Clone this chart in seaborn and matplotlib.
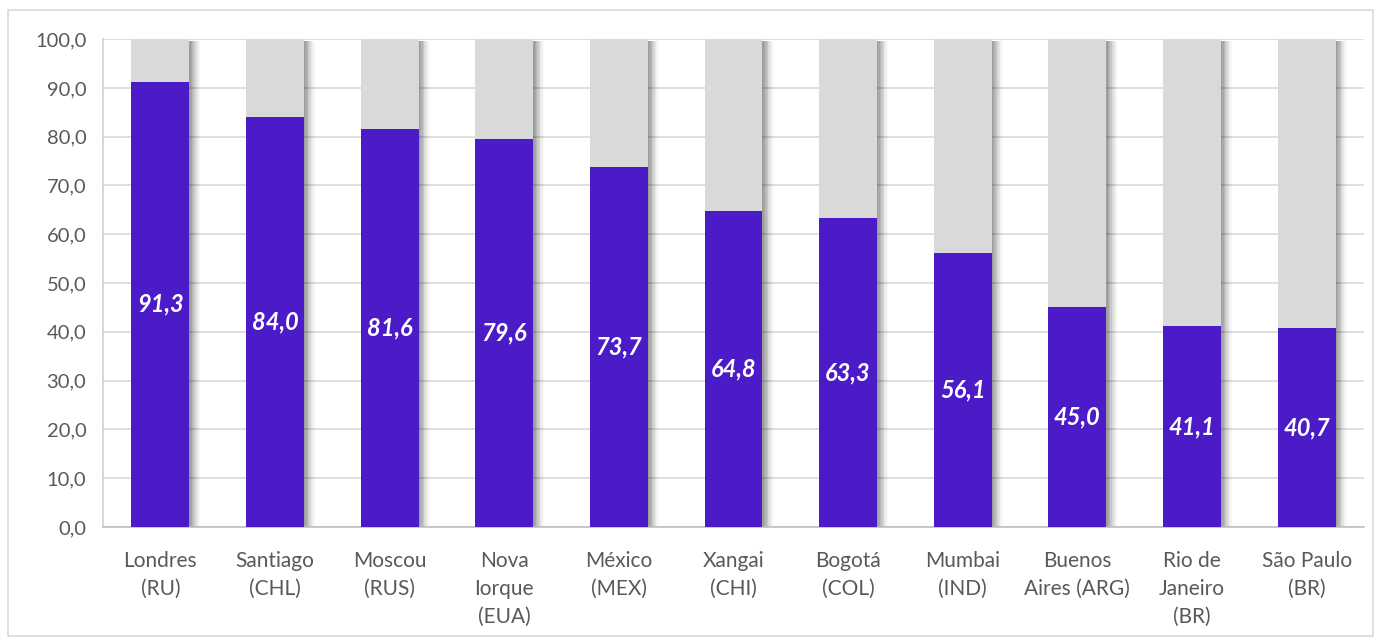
import matplotlib
matplotlib.use("Agg")
import matplotlib.pyplot as plt
import matplotlib.patheffects as pe
from matplotlib.patches import Rectangle
import seaborn as sns
import pandas as pd

cidades = ["Londres\n(RU)", "Santiago\n(CHL)", "Moscou\n(RUS)", "Nova\nIorque\n(EUA)",
           "México\n(MEX)", "Xangai\n(CHI)", "Bogotá\n(COL)", "Mumbai\n(IND)",
           "Buenos\nAires (ARG)", "Rio de\nJaneiro\n(BR)", "São Paulo\n(BR)"]
valores = [91.3, 84.0, 81.6, 79.6, 73.7, 64.8, 63.3, 56.1, 45.0, 41.1, 40.7]
total = [100.0] * len(valores)
yticks = [0, 10, 20, 30, 40, 50, 60, 70, 80, 90, 100]

df = pd.DataFrame({"cidade": cidades, "valor": valores, "total": total})

sns.set_theme(style="white")
plt.rcParams["font.family"] = ["Lato", "DejaVu Sans"]

fig = plt.figure(figsize=(13.81, 6.41), dpi=100)
ax = fig.add_axes([0.0746, 0.178, 0.913, 0.761])

roxo = "#4B1BC8"
cinza = "#D9D9D9"

sns.barplot(data=df, x="cidade", y="total", color=cinza, width=0.505,
            saturation=1, linewidth=0, ax=ax, zorder=2)
# soft drop shadow on the right side of each full-height bar
sombra = [pe.SimplePatchShadow(offset=(o, -1.5), shadow_rgbFace="#000000", alpha=a)
          for o, a in [(8, 0.025), (7, 0.035), (6, 0.045), (5, 0.06),
                       (4, 0.07), (3, 0.08), (2, 0.08), (1, 0.06)]]
for p in ax.patches:
    p.set_path_effects(sombra + [pe.Normal()])
n_cinza = len(ax.patches)

sns.barplot(data=df, x="cidade", y="valor", color=roxo, width=0.505,
            saturation=1, linewidth=0, ax=ax, zorder=3)

for p, v in zip(ax.patches[n_cinza:], valores):
    ax.text(p.get_x() + p.get_width() / 2, v / 2,
            f"{v:.1f}".replace(".", ","), ha="center", va="center",
            color="white", fontsize=17, fontweight="bold", fontstyle="italic",
            zorder=4)

ax.set_ylim(0, 100)
ax.set_xlim(-0.5, len(cidades) - 0.5)
ax.set_yticks(yticks)
ax.set_yticklabels([f"{t:.1f}".replace(".", ",") for t in yticks])
ax.yaxis.grid(True, color="#D9D9D9", linewidth=1.2, zorder=0)
ax.set_axisbelow(True)
ax.set_xlabel("")
ax.set_ylabel("")
ax.tick_params(axis="both", colors="#595959", length=0)
ax.tick_params(axis="y", pad=12, labelsize=14.5)
ax.tick_params(axis="x", pad=17, labelsize=15)
for lab in ax.get_xticklabels():
    lab.set_linespacing(1.5)

for s in ["top", "right"]:
    ax.spines[s].set_visible(False)
ax.spines["left"].set_color("#D0D0D0")
ax.spines["bottom"].set_color("#BFBFBF")
ax.spines["left"].set_linewidth(1.2)
ax.spines["bottom"].set_linewidth(1.2)

fig.patches.append(Rectangle((0.006, 0.008), 0.988, 0.977, transform=fig.transFigure,
                             fill=False, edgecolor="#D9D9D9", linewidth=1.2))

fig.savefig("out.png", dpi=100, facecolor="white")
